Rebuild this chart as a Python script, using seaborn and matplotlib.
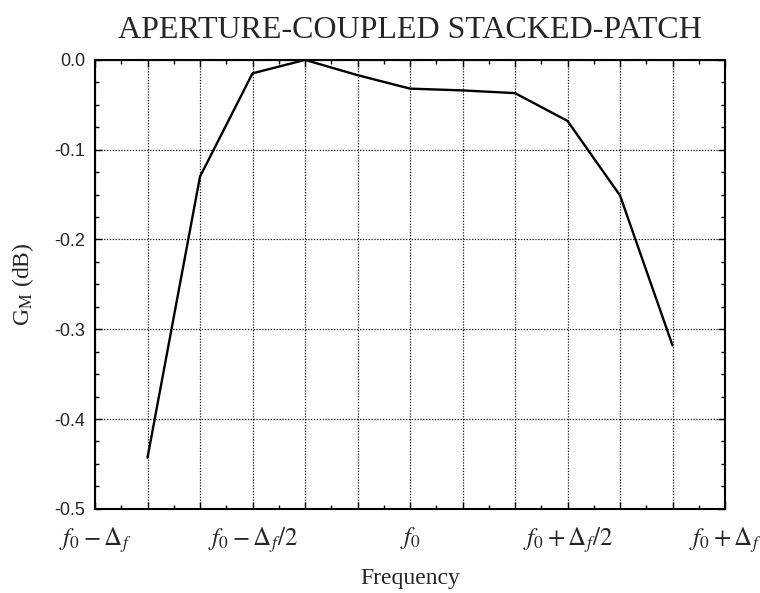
"""
Aperture-coupled stacked-patch: G_M (dB) vs frequency.
"""

import matplotlib
matplotlib.use("Agg")
import matplotlib.pyplot as plt
import seaborn as sns
import pandas as pd
from matplotlib.ticker import MultipleLocator

# frequency in steps of Δf/6 around f0
freq_step = [-5, -4, -3, -2, -1, 0, 1, 2, 3, 4, 5]
gain_db = [-0.443, -0.130, -0.015, 0.0, -0.017, -0.032, -0.034, -0.037, -0.068, -0.151, -0.318]

label_steps = [-6, -3, 0, 3, 6]
label_texts = [r"$f_0-\Delta_f$", r"$f_0-\Delta_f/2$", r"$f_0$",
               r"$f_0+\Delta_f/2$", r"$f_0+\Delta_f$"]
ytick_vals = [0.0, -0.1, -0.2, -0.3, -0.4, -0.5]

sns.set_style("ticks")
plt.rcParams["font.family"] = ["Liberation Serif", "DejaVu Serif"]
plt.rcParams["mathtext.fontset"] = "stix"

df = pd.DataFrame({"step": freq_step, "gain": gain_db})

fig = plt.figure(figsize=(7.6, 5.93), dpi=100)
ax = fig.add_axes([0.125, 0.142, 0.829, 0.757])

sns.lineplot(data=df, x="step", y="gain", ax=ax, color="black", linewidth=1.7)

ax.set_xlim(-6, 6)
ax.set_ylim(-0.5, 0.0)

# x: major tick every Δf/6, labels every Δf/2
major_steps = list(range(-6, 7))
lab = dict(zip(label_steps, label_texts))
ax.set_xticks(major_steps)
ax.set_xticklabels([lab.get(s, "") for s in major_steps], fontsize=18)
ax.xaxis.set_minor_locator(MultipleLocator(0.5))

ax.set_yticks(ytick_vals)
ax.set_yticklabels([f"{v:.1f}".replace("-0.0", "0.0") for v in ytick_vals],
                   fontsize=13, family="Liberation Sans")
ax.yaxis.set_minor_locator(MultipleLocator(0.025))

ax.tick_params(which="both", direction="in", top=True, right=True, color="black")
ax.tick_params(which="major", length=5, width=1.0)
ax.tick_params(which="minor", length=3, width=1.0)
ax.tick_params(axis="x", which="major", pad=12)
ax.tick_params(axis="y", which="major", pad=7)

ax.grid(True, which="major", color="#111111", linestyle=(0, (1, 1.3)), linewidth=0.9)

for sp in ax.spines.values():
    sp.set_linewidth(1.5)
    sp.set_color("black")

ax.set_xlabel("Frequency", fontsize=17, labelpad=9)
ax.set_ylabel(r"G$_{\mathrm{M}}$ (dB)", fontsize=17, labelpad=13)
ax.set_title("APERTURE-COUPLED STACKED-PATCH", fontsize=23, pad=16)

fig.savefig("out.png", dpi=100)
